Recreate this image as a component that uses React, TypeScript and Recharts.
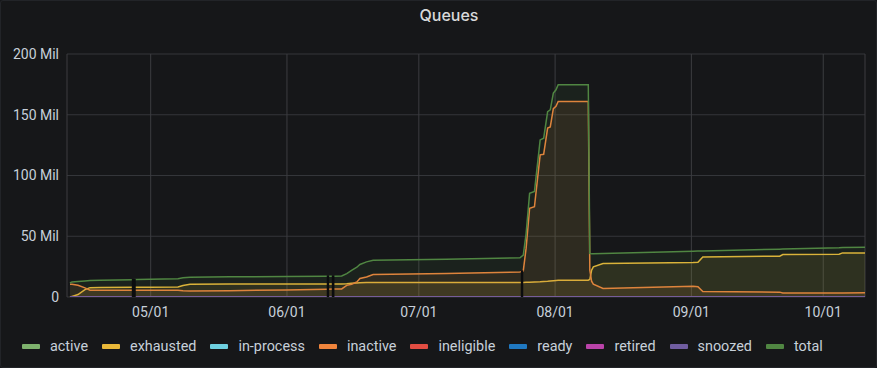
import React from "react";
import {
  ComposedChart,
  Area,
  XAxis,
  YAxis,
  CartesianGrid,
  ReferenceArea,
} from "recharts";

// x values are days counted from 04/01 (05/01 = 30)
const days = [
  11.64, 12.1, 13.46, 15.05, 16.2, 18.5, 25.97, 26.9, 29.84, 36.2, 37.35, 38.94,
  48.0, 60.8, 69.9, 71.7, 73.45, 74.6, 75.7, 76.9, 77.6, 79.1, 80.6, 97.3, 114.0,
  114.76, 115.4, 116.2, 117.3, 118.6, 119.4, 120.3, 120.9, 121.6, 122.2, 122.7,
  129.55, 129.9, 130.3, 130.7, 132.9, 153.4, 154.5, 155.6, 173.1, 173.8, 186.6,
  187.4, 192.5,
];

// values in millions
const totalVals = [
  11.5, 12.4, 12.8, 13.2, 13.5, 13.8, 14.3, 14.4, 14.6, 15.0, 15.8, 16.3,
  16.6, 16.8, 17.1, 17.1, 17.3, 19.3, 22.0, 24.5, 26.8, 28.9, 30.3, 31.1, 32.2,
  34.4, 52, 85.3, 86.8, 129.3, 130.7, 152.6, 154, 167.8, 170.5, 174.7,
  174.7, 35.8, 35.5, 35.5, 35.8, 37.7, 37.8, 37.9, 39.4, 39.5, 40.6,
  40.8, 41.0,
];

const inactiveVals = [
  10.5, 10.5, 9.6, 7.5, 5.6, 5.5, 5.5, 5.5, 5.5, 5.5, 5.2, 5.0,
  5.2, 5.8, 6.4, 6.5, 6.6, 9.6, 10.5, 12.4, 15.2, 16.5, 18.5, 19.3, 20.6,
  21.5, 40, 73, 74.3, 117, 117.5, 139, 140, 155, 157, 161,
  161, 22, 13, 10.5, 7, 8.8, 8.5, 4.5, 4.0, 3.3, 3.3,
  3.3, 3.4,
];

const exhaustedVals = [
  0, 0.5, 2.0, 6.1, 7.7, 7.9, 8.0, 8.0, 8.1, 8.2, 9.5, 10.5,
  10.6, 10.6, 10.6, 10.6, 10.6, 10.9, 11.3, 11.6, 11.8, 11.9, 11.9, 11.9, 12.0,
  12.0, 12.1, 12.2, 12.4, 12.6, 12.8, 13.0, 13.2, 13.4, 13.6, 13.7,
  13.8, 14.5, 22, 24.8, 27.5, 28.4, 28.6, 33.0, 33.6, 35.0, 35.2,
  36.3, 36.3,
];

// series that stay at zero across the range
const flatDays = [11.64, 192.5];
const activeVals = [0, 0];
const inProcessVals = [0, 0];
const ineligibleVals = [0, 0];
const readyVals = [0, 0];
const retiredVals = [0, 0];
const snoozedVals = [0, 0];

// null-gap markers: start day, end day, height (millions)
const gapStarts = [25.7, 70.05, 71.2, 114.2];
const gapEnds = [26.6, 70.6, 71.8, 114.75];
const gapTops = [14.8, 17.9, 17.9, 22];

const xTicks = [30, 61, 91, 122, 153, 183];
const xTickLabels = ["05/01", "06/01", "07/01", "08/01", "09/01", "10/01"];
const yTicks = [0, 50, 100, 150, 200];

const seriesNames = [
  "active",
  "exhausted",
  "in-process",
  "inactive",
  "ineligible",
  "ready",
  "retired",
  "snoozed",
  "total",
];
const seriesColors = [
  "#7EB26D",
  "#EAB839",
  "#6ED0E0",
  "#EF843C",
  "#E24D42",
  "#1F78C1",
  "#BA43A9",
  "#705DA0",
  "#508642",
];

const rows = days.map((d, i) => ({
  day: d,
  exhausted: exhaustedVals[i],
  inactive: inactiveVals[i],
  total: totalVals[i],
}));

const flatRows = flatDays.map((d, i) => ({
  day: d,
  active: activeVals[i],
  "in-process": inProcessVals[i],
  ineligible: ineligibleVals[i],
  ready: readyVals[i],
  retired: retiredVals[i],
  snoozed: snoozedVals[i],
}));

const flatKeys = ["active", "in-process", "ineligible", "ready", "retired", "snoozed"];

const BG = "#161719";
const TEXT = "#c7d0d9";
const FONT = "Roboto, Inter, sans-serif";

export default function App() {
  return (
    <div
      style={{
        position: "relative",
        width: 877,
        height: 368,
        background: BG,
        overflow: "hidden",
        fontFamily: FONT,
      }}
    >
      <style>{`body{margin:0;background:${BG};}`}</style>
      <div
        style={{
          position: "absolute",
          inset: 0,
          border: "1px solid #222428",
          borderRadius: 3,
          boxSizing: "border-box",
          pointerEvents: "none",
        }}
      />
      <div
        style={{
          position: "absolute",
          top: 5,
          left: 449,
          transform: "translateX(-50%)",
          fontFamily: "Inter, Roboto, sans-serif",
          fontSize: 16,
          fontWeight: 500,
          lineHeight: "20px",
          color: "#d8d9da",
          whiteSpace: "nowrap",
        }}
      >
        Queues
      </div>
      <div style={{ position: "absolute", top: 0, left: 0 }}>
        <ComposedChart
          width={877}
          height={330}
          data={rows}
          margin={{ top: 54, right: 12, left: 0, bottom: 3 }}
        >
          <CartesianGrid
            horizontal={true}
            vertical={false}
            stroke="#34363a"
            strokeWidth={1}
          />
          <CartesianGrid
            horizontal={false}
            vertical={true}
            stroke="#3c3d40"
            strokeWidth={1}
          />
          <XAxis
            dataKey="day"
            type="number"
            domain={[10.96, 192.5]}
            ticks={xTicks}
            allowDataOverflow
            axisLine={false}
            tickLine={false}
            height={30}
            tickMargin={4}
            tickFormatter={(v: number) => xTickLabels[xTicks.indexOf(v)] ?? ""}
            tick={{ fill: TEXT, fontSize: 14, fontFamily: FONT }}
          />
          <YAxis
            type="number"
            domain={[0, 200]}
            ticks={yTicks}
            allowDataOverflow
            axisLine={false}
            tickLine={false}
            width={67}
            tickFormatter={(v: number) => (v === 0 ? "0" : `${v} Mil`)}
            tick={{ fill: TEXT, fontSize: 14, fontFamily: FONT }}
          />
          {seriesNames.map((name, i) => {
            const isFlat = flatKeys.includes(name);
            return (
              <Area
                key={name}
                type="linear"
                dataKey={name}
                data={isFlat ? flatRows : undefined}
                stroke={seriesColors[i]}
                strokeWidth={1.5}
                fill={seriesColors[i]}
                fillOpacity={0.1}
                dot={false}
                activeDot={false}
                isAnimationActive={false}
              />
            );
          })}
          {gapStarts.map((s, i) => (
            <ReferenceArea
              key={"gap" + i}
              x1={s}
              x2={gapEnds[i]}
              y1={0}
              y2={gapTops[i]}
              fill="#0b0c0e"
              fillOpacity={1}
              stroke="none"
              ifOverflow="visible"
            />
          ))}
        </ComposedChart>
      </div>
      <div
        style={{
          position: "absolute",
          top: 336,
          left: 22,
          height: 20,
          display: "flex",
          alignItems: "center",
          fontSize: 14.4,
          color: TEXT,
          whiteSpace: "nowrap",
        }}
      >
        {seriesNames.map((name, i) => (
          <div
            key={name}
            style={{ display: "flex", alignItems: "center", marginRight: 14 }}
          >
            <span
              style={{
                display: "inline-block",
                width: 18,
                height: 5,
                borderRadius: 1,
                background: seriesColors[i],
                marginRight: 10,
              }}
            />
            <span>{name}</span>
          </div>
        ))}
      </div>
    </div>
  );
}
